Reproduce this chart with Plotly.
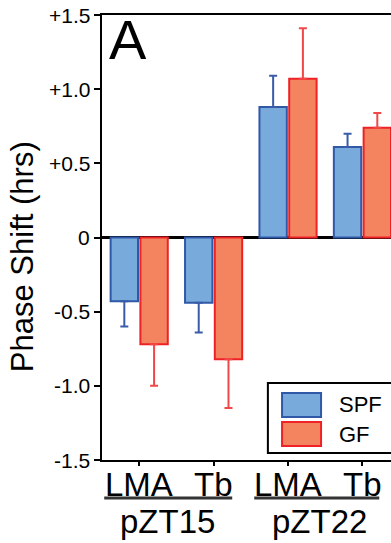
import plotly.graph_objects as go

# ---- data ----
categories = [0, 1, 2, 3]
tick_labels = ["LMA", "Tb", "LMA", "Tb"]
group_labels = ["pZT15", "pZT22"]
spf_values = [-0.43, -0.44, 0.88, 0.61]
spf_errors = [0.17, 0.20, 0.21, 0.09]
gf_values = [-0.72, -0.82, 1.07, 0.74]
gf_errors = [0.28, 0.33, 0.34, 0.10]
y_tickvals = [1.5, 1.0, 0.5, 0, -0.5, -1.0, -1.5]
y_ticktext = ["+1.5", "+1.0", "+0.5", "0", "-0.5", "-1.0", "-1.5"]

FONT = "Liberation Sans, Arial, sans-serif"
SPF_FILL, SPF_LINE, SPF_ERR = "#78aadc", "#2f59a8", "#3a5ca8"
GF_FILL, GF_LINE, GF_ERR = "#f4845f", "#ee2226", "#f04848"


def err_sides(vals, errs):
    up = [e if v > 0 else 0 for v, e in zip(vals, errs)]
    down = [e if v < 0 else 0 for v, e in zip(vals, errs)]
    return up, down


fig = go.Figure()
for name, vals, errs, fill, line, ecol in [
    ("SPF", spf_values, spf_errors, SPF_FILL, SPF_LINE, SPF_ERR),
    ("GF", gf_values, gf_errors, GF_FILL, GF_LINE, GF_ERR),
]:
    up, down = err_sides(vals, errs)
    fig.add_trace(go.Bar(
        x=categories, y=vals, name=name,
        marker=dict(color=fill, line=dict(color=line, width=2)),
        error_y=dict(type="data", symmetric=False, array=up, arrayminus=down,
                     color=ecol, thickness=2, width=4),
        showlegend=False,
    ))

fig.update_layout(
    template="none",
    width=391, height=543, autosize=False,
    margin=dict(l=102, r=0, t=15, b=83, pad=0),
    paper_bgcolor="white", plot_bgcolor="white",
    barmode="group", bargap=0.2, bargroupgap=0.08,
    font=dict(family=FONT, color="black"),
    showlegend=False,
    xaxis=dict(
        range=[-0.5, 3.384], tickmode="array", tickvals=categories,
        showticklabels=False,
        showline=True, linecolor="black", linewidth=2, mirror=True,
        ticks="outside", ticklen=4, tickwidth=1.5, tickcolor="black",
        showgrid=False, zeroline=False, automargin=False,
    ),
    yaxis=dict(
        range=[-1.5, 1.5], tickmode="array", tickvals=y_tickvals,
        showticklabels=False,
        showline=True, linecolor="black", linewidth=2, mirror=False,
        ticks="outside", ticklen=6, tickwidth=1.5, tickcolor="black",
        showgrid=False, zeroline=True, zerolinecolor="black", zerolinewidth=3,
        automargin=False,
    ),
)

annotations = []
# y tick labels
for v, t in zip(y_tickvals, y_ticktext):
    annotations.append(dict(text=t, xref="paper", yref="y", x=-0.036, y=v,
                            xanchor="right", yanchor="middle", showarrow=False,
                            font=dict(size=21, family=FONT, color="black")))
# x tick labels
for c, t in zip(categories, tick_labels):
    annotations.append(dict(text=t, xref="x", yref="paper", x=c, y=-0.054,
                            xanchor="center", yanchor="middle", showarrow=False,
                            font=dict(size=33, family=FONT, color="black")))
annotations += [
    dict(text="Phase Shift (hrs)", textangle=-90, xref="paper", yref="paper",
         x=-0.275, y=0.457, xanchor="center", yanchor="middle", showarrow=False,
         font=dict(size=31, family=FONT, color="black")),
    dict(text="A", xref="paper", yref="paper", x=0.018, y=0.944,
         xanchor="left", yanchor="middle", showarrow=False,
         font=dict(size=56, family=FONT, color="black")),
    dict(text=group_labels[0], xref="x", yref="paper", x=0.38, y=-0.139,
         xanchor="center", yanchor="middle", showarrow=False,
         font=dict(size=33, family=FONT, color="black")),
    dict(text=group_labels[1], xref="x", yref="paper", x=2.42, y=-0.139,
         xanchor="center", yanchor="middle", showarrow=False,
         font=dict(size=33, family=FONT, color="black")),
    dict(text="SPF", xref="paper", yref="paper", x=0.813, y=0.1258,
         xanchor="left", yanchor="middle", showarrow=False,
         font=dict(size=22, family=FONT, color="black")),
    dict(text="GF", xref="paper", yref="paper", x=0.813, y=0.0584,
         xanchor="left", yanchor="middle", showarrow=False,
         font=dict(size=22, family=FONT, color="black")),
]
shapes = [
    # group underlines
    dict(type="line", xref="x", yref="paper", x0=-0.47, x1=1.25, y0=-0.0854, y1=-0.0854,
         line=dict(color="#333333", width=3)),
    dict(type="line", xref="x", yref="paper", x0=1.546, x1=3.226, y0=-0.0854, y1=-0.0854,
         line=dict(color="#333333", width=3)),
    # legend box
    dict(type="rect", xref="paper", yref="paper", x0=0.574, x1=1.2, y0=0.0157, y1=0.173,
         line=dict(color="black", width=2), fillcolor="white"),
    dict(type="rect", xref="paper", yref="paper", x0=0.623, x1=0.758, y0=0.0966, y1=0.1506,
         line=dict(color=SPF_LINE, width=2), fillcolor=SPF_FILL),
    dict(type="rect", xref="paper", yref="paper", x0=0.623, x1=0.758, y0=0.0315, y1=0.0854,
         line=dict(color=GF_LINE, width=2), fillcolor=GF_FILL),
]
fig.update_layout(annotations=annotations, shapes=shapes)

fig.write_html("out.html")
